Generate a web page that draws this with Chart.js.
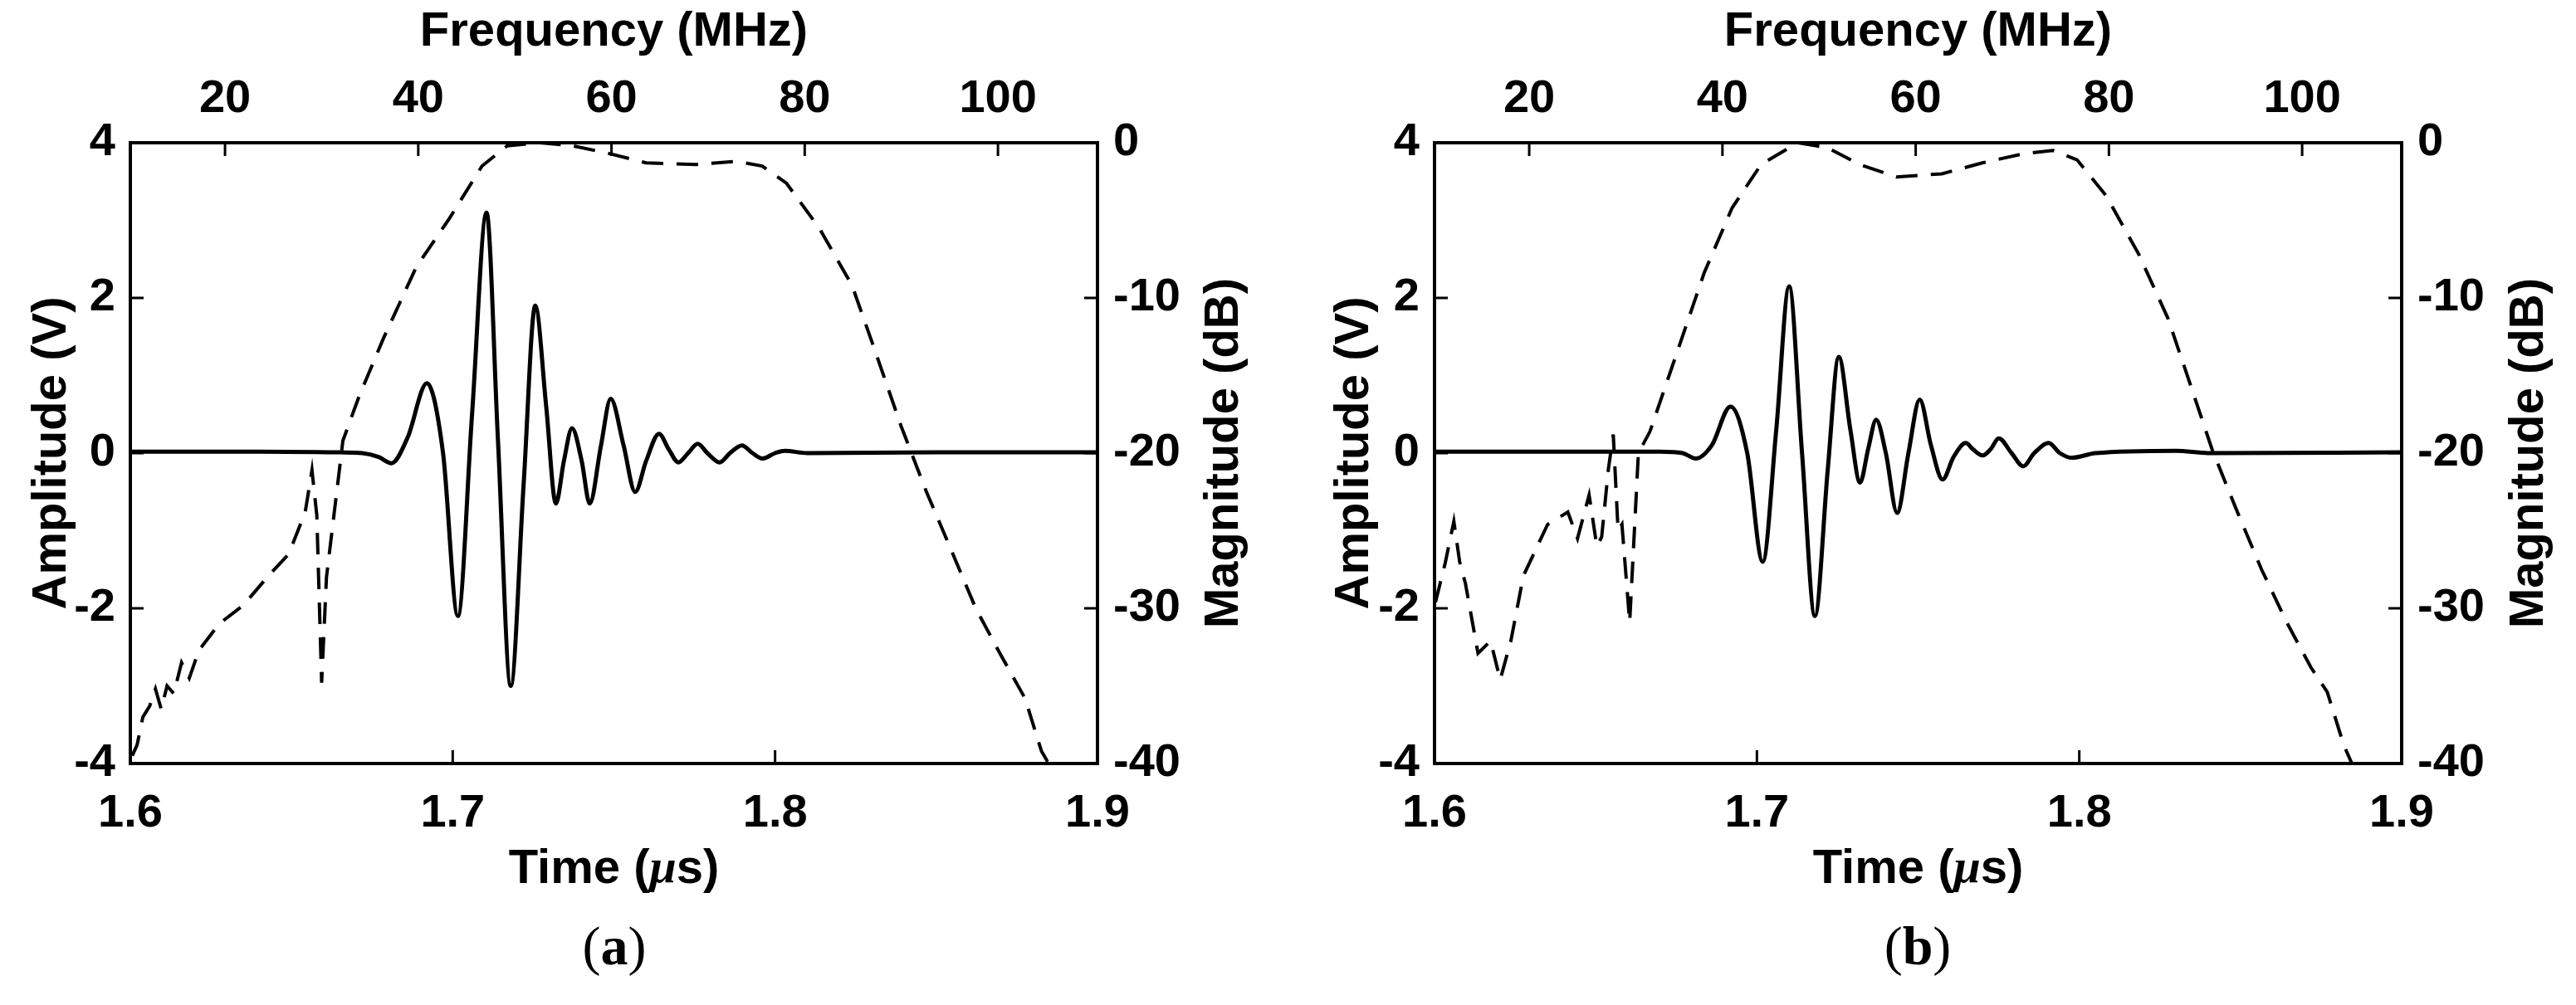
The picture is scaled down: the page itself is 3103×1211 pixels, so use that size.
<!DOCTYPE html>
<html><head><meta charset="utf-8">
<script src="https://cdn.jsdelivr.net/npm/chart.js@4/dist/chart.umd.min.js"></script>
<style>
html,body{margin:0;padding:0;background:#fff;width:3103px;height:1211px;overflow:hidden}
.p{position:absolute;top:0;width:1550px;height:1100px}
.lab{position:absolute;top:1100px;width:300px;text-align:center;font-family:"Liberation Serif",serif;font-size:66px;line-height:80px}
</style></head><body>
<div class="p" style="left:0"><canvas id="ca"></canvas></div>
<div class="p" style="left:1553px"><canvas id="cb"></canvas></div>
<div class="lab" style="left:590px">(<b>a</b>)</div>
<div class="lab" style="left:2160px">(<b>b</b>)</div>
<script>
// ---- data ----
const timeTicks = [1.6, 1.7, 1.8, 1.9];
const ampTicks = [-4, -2, 0, 2, 4];
const freqTicks = [20, 40, 60, 80, 100];
const dbTicks = [-40, -30, -20, -10, 0];

const timeA = [1.600,1.640,1.665,1.672,1.677,1.681,1.686,1.692,1.697,1.7016,1.706,1.7105,1.714,1.718,1.722,1.7256,1.729,1.732,1.7345,1.737,1.740,1.7425,1.746,1.749,1.753,1.7566,1.760,1.764,1.767,1.770,1.773,1.776,1.779,1.7828,1.786,1.7897,1.793,1.796,1.800,1.803,1.810,1.850,1.900];
const ampA  = [0.02,0.02,0.01,0,-0.05,-0.13,0.2,0.9,0,-2.1,0.5,3.1,0.2,-3.0,-0.4,1.9,0.6,-0.65,-0.1,0.32,-0.1,-0.65,0.1,0.7,0.1,-0.5,-0.1,0.25,0.05,-0.12,0,0.12,0,-0.12,0,0.1,0,-0.07,0,0.03,0,0.01,0.01];
const freqA = [10.4,10.9,11.5,12.2,12.8,13.4,14.0,14.7,15.5,16.3,17.3,19.4,21.9,24.5,26.6,28.3,29.0,29.5,30.0,30.5,32.2,33.9,36.4,39.8,43.2,46.6,49.2,52.6,56.0,59.8,63.6,68.8,73.0,75.6,78.1,81.5,84.9,87.5,90.0,92.6,95.2,97.7,100.2,102.8,104.5,105.7];
const magA  = [-39.5,-38.8,-37,-36.3,-35.2,-36.5,-35,-35.5,-33.5,-34.5,-32.7,-31,-29.8,-27.9,-26.5,-23.8,-21.1,-24,-34.8,-28,-19.2,-16.3,-12.6,-8.0,-4.9,-1.5,-0.2,0,-0.2,-0.7,-1.3,-1.4,-1.2,-1.5,-2.6,-5.5,-9.2,-13.8,-18.3,-22.5,-26.3,-30,-32.9,-35.8,-39.2,-40.5];

const timeB = [1.600,1.640,1.670,1.677,1.681,1.686,1.6918,1.697,1.7018,1.706,1.710,1.714,1.718,1.722,1.7254,1.729,1.732,1.7345,1.737,1.740,1.7435,1.747,1.7505,1.754,1.7576,1.761,1.7648,1.767,1.770,1.7725,1.775,1.779,1.7826,1.786,1.7905,1.794,1.7977,1.805,1.830,1.840,1.900];
const ampB  = [0.02,0.02,0.02,0,-0.07,0.1,0.6,0,-1.4,0.3,2.15,0,-2.1,-0.2,1.24,0.3,-0.38,0.05,0.43,0,-0.77,0,0.69,0.1,-0.34,-0.05,0.13,0.05,-0.03,0.05,0.19,0,-0.17,0,0.13,0,-0.06,0,0.03,0,0.01];
const freqB = [10.3,11.3,12.2,12.8,13.4,14.7,16.0,17.0,18.1,19.4,21.9,24.0,25.0,26.2,27.0,27.5,28.2,28.7,29.2,29.6,30.4,31.3,32.5,34.7,38.1,41.0,44.0,47.8,50.8,54.2,58.0,62.7,66.9,71.2,74.2,76.7,79.7,83.1,86.1,88.6,90.7,93.3,95.8,98.4,100.9,102.6,104.3,105.5];
const magB  = [-29.6,-27.1,-24.4,-27,-28.4,-32.9,-32.1,-34.6,-32.1,-27.9,-24.6,-23.8,-25.5,-22.7,-26,-25.4,-21,-18.8,-25,-24.6,-30.9,-20,-18.6,-14.6,-8.4,-4.2,-1.4,0,-0.3,-1.4,-2.2,-2.0,-1.3,-0.7,-0.5,-1.1,-3.4,-7.2,-11.3,-15.9,-19.8,-23.8,-27.5,-30.9,-33.8,-35.4,-38.8,-40.5];

const FAM = '"Liberation Sans", Arial, sans-serif';
function pts(xs, ys){ return xs.map((x,i)=>({x:x, y:ys[i]})); }
function fixed(arr){ return axis => { axis.ticks = arr.map(v=>({value:v})); }; }
function axisCfg(pos, min, max, ticks, title, size, pad){
  const horiz = pos==='top'||pos==='bottom';
  return {
    type:'linear', position:pos, min:min, max:max,
    afterBuildTicks: fixed(ticks),
    afterFit: s => { if(horiz) s.height = size; else s.width = size; },
    grid:{display:true, drawOnChartArea:false, drawTicks:false, color:'#000', lineWidth:3},
    border:{display:true, color:'#000', width:4},
    ticks:{color:'#000', font:{family:FAM, size:56, weight:'bold'}, padding:pad, maxRotation:0, autoSkip:false},
    title:{display:!!title, text:title||'', color:'#000', font:{family:FAM, size:58, weight:'bold'}, padding:{top:4,bottom:0}}
  };
}
const customTitles = {
  id:'customTitles',
  afterDraw(chart){
    const ctx = chart.ctx, a = chart.chartArea, S = chart.scales;
    ctx.save();
    ctx.strokeStyle='#000'; ctx.lineWidth=3; const L=16;
    ctx.beginPath();
    S.x.ticks.forEach(t=>{const p=S.x.getPixelForValue(t.value); ctx.moveTo(p,a.bottom); ctx.lineTo(p,a.bottom-L);});
    S.x2.ticks.forEach(t=>{const p=S.x2.getPixelForValue(t.value); ctx.moveTo(p,a.top); ctx.lineTo(p,a.top+L);});
    S.y.ticks.forEach(t=>{const p=S.y.getPixelForValue(t.value); ctx.moveTo(a.left,p); ctx.lineTo(a.left+L,p);});
    S.y2.ticks.forEach(t=>{const p=S.y2.getPixelForValue(t.value); ctx.moveTo(a.right,p); ctx.lineTo(a.right-L,p);});
    ctx.stroke();
    ctx.fillStyle = '#000';
    ctx.textBaseline = 'middle';
    const parts = [['bold 58px '+FAM,'Time ('],['italic bold 58px "Liberation Serif", serif','\u03BC'],['bold 58px '+FAM,'s)']];
    let w = 0; parts.forEach(p=>{ctx.font=p[0]; w+=ctx.measureText(p[1]).width;});
    let x = (a.left+a.right)/2 - w/2, y = a.bottom + 128;
    ctx.textAlign='left';
    parts.forEach(p=>{ctx.font=p[0]; ctx.fillText(p[1],x,y); x+=ctx.measureText(p[1]).width;});
    ctx.font = 'bold 58px '+FAM;
    ctx.translate(chart.options.rightTitleX, (a.top+a.bottom)/2);
    ctx.rotate(-Math.PI/2);
    ctx.textAlign='center';
    ctx.fillText('Magnitude (dB)',0,0);
    ctx.restore();
  }
};
function make(id, tx, ty, fx, fy, padL, L, R, rtx){
  new Chart(document.getElementById(id), {
    type:'line',
    data:{datasets:[
      {data:pts(tx,ty), xAxisID:'x', yAxisID:'y', borderColor:'#000', borderWidth:5, pointRadius:0, cubicInterpolationMode:'monotone', fill:false},
      {data:pts(fx,fy), xAxisID:'x2', yAxisID:'y2', borderColor:'#000', borderWidth:4, borderDash:[26,16], pointRadius:0, tension:0, fill:false}
    ]},
    options:{
      responsive:true, maintainAspectRatio:false, animation:false,
      devicePixelRatio:1, rightTitleX:rtx,
      layout:{padding:{left:padL}},
      plugins:{legend:{display:false}, tooltip:{enabled:false}},
      scales:{
        x: axisCfg('bottom',1.6,1.9,timeTicks,null,180,27),
        x2: axisCfg('top',10.2,110.3,freqTicks,'Frequency (MHz)',172,19),
        y: axisCfg('left',-4,4,ampTicks,'Amplitude (V)',L,18),
        y2: axisCfg('right',-40,0,dbTicks,null,R,19)
      }
    },
    plugins:[customTitles]
  });
}
make('ca', timeA, ampA, freqA, magA, 24, 133, 228, 1475);
make('cb', timeB, ampB, freqB, magB, 40, 135, 210, 1494);
</script>
</body></html>
